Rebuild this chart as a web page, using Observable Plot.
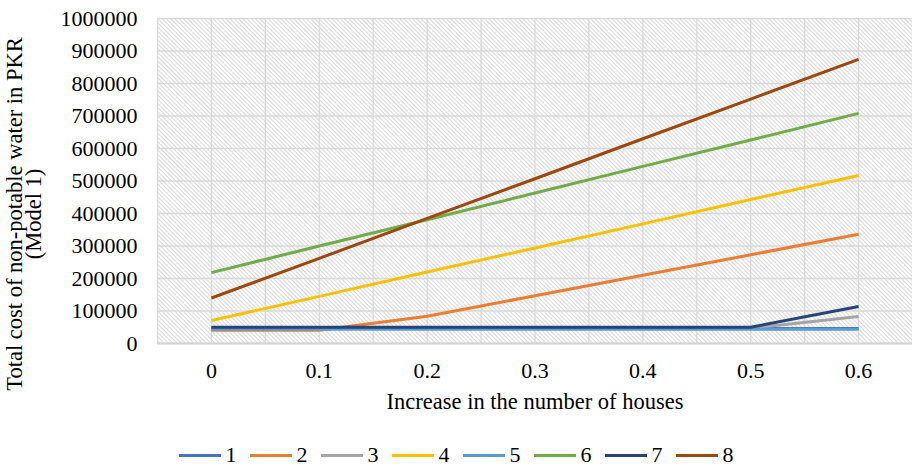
<!DOCTYPE html>
<html>
<head>
<meta charset="utf-8">
<script src="https://cdn.jsdelivr.net/npm/d3@7"></script>
<script src="https://cdn.jsdelivr.net/npm/@observablehq/plot@0.6"></script>
<style>
  html, body { margin: 0; padding: 0; background: #fff; overflow: hidden; }
  #chart { width: 912px; height: 468px; position: relative; font-family: "Liberation Serif", "Times New Roman", serif; }
  #legend { display: flex; justify-content: center; align-items: center; height: 34px; font-size: 22px; line-height: 20px; color: #000; }
  .item { display: flex; align-items: center; margin: 0 6.5px; }
  .sw { width: 42px; height: 3px; margin-right: 5px; }
  .lb { line-height: 20px; }
</style>
</head>
<body>
<div id="chart"></div>
<script>
const houses = [0, 0.1, 0.2, 0.3, 0.4, 0.5, 0.6];
const seriesNames = ["1", "2", "3", "4", "5", "6", "7", "8"];
const s1 = [46000, 46000, 46000, 46000, 46000, 46000, 46000];
const s2 = [41000, 41000, 84000, 147000, 210000, 273000, 336000];
const s3 = [47000, 47000, 47000, 47000, 47000, 47000, 83000];
const s4 = [71000, 145000, 220000, 294000, 368000, 443000, 517000];
const s5 = [44000, 44000, 44000, 44000, 44000, 44000, 44000];
const s6 = [218000, 300000, 381000, 463000, 545000, 626000, 708000];
const s7 = [50000, 50000, 50000, 50000, 50000, 50000, 114000];
const s8 = [140000, 262000, 385000, 507000, 630000, 752000, 874000];
const colors = ["#4472C4", "#ED7D31", "#A5A5A5", "#FFC000", "#5B9BD5", "#70AD47", "#264478", "#9E480E"];
const yTicks = [0, 100000, 200000, 300000, 400000, 500000, 600000, 700000, 800000, 900000, 1000000];
const xTicks = houses;
const yLabel = "Total cost of non-potable water in PKR\n(Model 1)";
const xLabel = "Increase in the number of houses";

const allSeries = [s1, s2, s3, s4, s5, s6, s7, s8];
const data = [];
allSeries.forEach((s, i) => s.forEach((v, j) => data.push({series: seriesNames[i], x: houses[j], y: v})));

const xGrid = d3.range(-0.05, 0.651, 0.05).map(v => Math.round(v * 100) / 100);

const font = '"Liberation Serif", "Times New Roman", serif';

const svg = Plot.plot({
  width: 912,
  height: 438,
  marginTop: 18,
  marginBottom: 95,
  marginLeft: 157,
  marginRight: 0,
  style: {fontFamily: font, fontSize: "22px", color: "#000", background: "transparent"},
  x: {domain: [-0.05, 0.65], axis: null},
  y: {domain: [0, 1000000], axis: null},
  color: {domain: seriesNames, range: colors},
  marks: [
    Plot.frame({fill: "white", stroke: "none", ariaLabel: "frame"}),
    Plot.gridX(xGrid, {stroke: "#dadada", strokeOpacity: 1, strokeWidth: 1.3}),
    Plot.gridY(yTicks, {stroke: "#dadada", strokeOpacity: 1, strokeWidth: 1.3}),
    Plot.ruleY([0], {stroke: "#d4d4d4", strokeWidth: 2}),
    Plot.axisY(yTicks, {tickSize: 0, tickPadding: 20, fontSize: 22, tickFormat: d => String(d), label: null}),
    Plot.axisX(xTicks, {tickSize: 0, tickPadding: 19, fontSize: 22, tickFormat: d => String(d), label: null}),
    Plot.line(data, {x: "x", y: "y", z: "series", stroke: "series", strokeWidth: 3, strokeLinejoin: "round", strokeLinecap: "butt"}),
    Plot.text([yLabel], {frameAnchor: "left", text: d => d, rotate: -90, dx: -132, dy: 33, fontSize: 22.5, lineHeight: 0.82, textAnchor: "middle", lineAnchor: "middle", fill: "#000"}),
    Plot.text([xLabel], {frameAnchor: "bottom", text: d => d, dy: 58, fontSize: 22.5, textAnchor: "middle", lineAnchor: "middle", fill: "#000"})
  ]
});

// hatch pattern for plot background
const ns = "http://www.w3.org/2000/svg";
const defs = document.createElementNS(ns, "defs");
defs.innerHTML = '<pattern id="hatch" patternUnits="userSpaceOnUse" width="3" height="3" patternTransform="rotate(45)">' +
  '<rect width="3" height="3" fill="#ffffff"/><rect width="3" height="1.2" fill="#dcdcdc"/></pattern>';
svg.insertBefore(defs, svg.firstChild);
let fr = svg.querySelector('[aria-label="frame"]');
if (fr) {
  const r = fr.tagName.toLowerCase() === "rect" ? fr : fr.querySelector("rect");
  if (r) r.setAttribute("fill", "url(#hatch)");
}

const chart = document.getElementById("chart");
svg.style.display = "block";
chart.appendChild(svg);

const legend = document.createElement("div");
legend.id = "legend";
seriesNames.forEach((n, i) => {
  const it = document.createElement("div");
  it.className = "item";
  const sw = document.createElement("span");
  sw.className = "sw";
  sw.style.background = colors[i];
  const lb = document.createElement("span");
  lb.className = "lb";
  lb.textContent = n;
  it.appendChild(sw);
  it.appendChild(lb);
  legend.appendChild(it);
});
chart.appendChild(legend);
</script>
</body>
</html>
